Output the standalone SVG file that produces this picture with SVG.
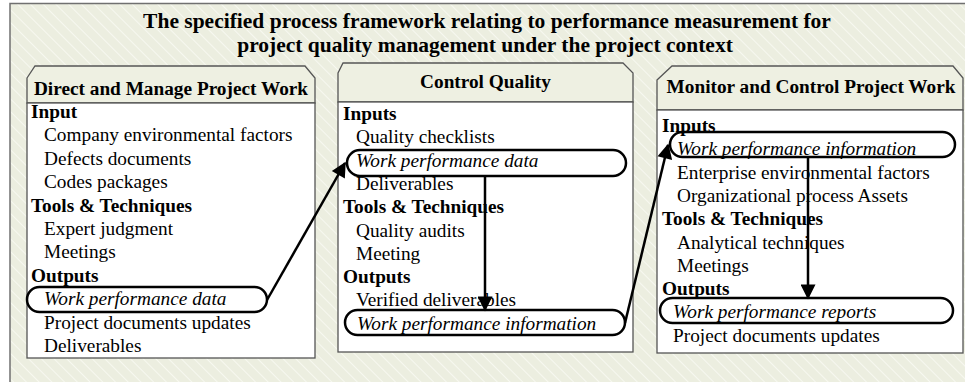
<svg xmlns="http://www.w3.org/2000/svg" width="965" height="382" viewBox="0 0 965 382" font-family="'Liberation Serif', Tinos, 'Times New Roman', 'DejaVu Serif', serif">
<defs>
<pattern id="hatch" width="9" height="9" patternUnits="userSpaceOnUse" patternTransform="rotate(-45)">
<rect width="9" height="9" fill="#ECEEE0"/>
<line x1="0" y1="0" x2="0" y2="9" stroke="#F7F8F0" stroke-width="2"/>
</pattern>
<marker id="arr" viewBox="0 0 10 10" refX="9" refY="5" markerWidth="7" markerHeight="6" markerUnits="strokeWidth" orient="auto">
<path d="M0,0 L10,5 L0,10 z" fill="#000"/>
</marker>
</defs>
<style>
.frame{fill:url(#hatch);stroke:#707070;stroke-width:1.5}
.hdr{fill:#EEF0E2;stroke:#555;stroke-width:1.3}
.body{fill:#fff;stroke:#555;stroke-width:1.3}
text{font-family:'Liberation Serif',Tinos,'Times New Roman','DejaVu Serif',serif;font-size:19.3px;fill:#000}
.title{font-weight:bold;font-size:21.5px;text-anchor:middle}
.ht{font-weight:bold;text-anchor:middle}
.sec{font-weight:bold}
.it{font-style:italic}
.hl{fill:none;stroke:#000;stroke-width:2.5}
.conn{fill:none;stroke:#000;stroke-width:2.5}
</style>
<rect class="frame" x="10" y="3.5" width="970" height="395"/>
<g id="title">
<text class="title" x="487" y="28">The specified process framework relating to performance measurement for</text>
<text class="title" x="485" y="52">project quality management under the project context</text>
</g>
<g id="direct-manage">
<path class="hdr" d="M27,78 L35,66 L305,66 L315,78 L315,103 L27,103 Z"/>
<rect class="body" x="27" y="103" width="288" height="255"/>
<text class="ht" x="171" y="95">Direct and Manage Project Work</text>
<text class="sec" x="31" y="118">Input</text>
<text x="44" y="141.4">Company environmental factors</text>
<text x="44" y="164.8">Defects documents</text>
<text x="44" y="188.2">Codes packages</text>
<text class="sec" x="31" y="211.6">Tools &amp; Techniques</text>
<text x="44" y="235">Expert judgment</text>
<text x="44" y="258.4">Meetings</text>
<text class="sec" x="31" y="281.8">Outputs</text>
<text class="it" x="44" y="305.2">Work performance data</text>
<text x="44" y="328.6">Project documents updates</text>
<text x="44" y="352">Deliverables</text>
<rect class="hl" x="27" y="287" width="240" height="25" rx="12.5"/>
</g>
<g id="control-quality">
<path class="hdr" d="M338,73 L343,63 L623,63 L633,73 L633,102 L338,102 Z"/>
<rect class="body" x="338" y="102" width="295" height="250"/>
<text class="ht" x="485.5" y="88">Control Quality</text>
<text class="sec" x="343" y="120">Inputs</text>
<text x="356" y="143.3">Quality checklists</text>
<text class="it" x="356" y="166.6">Work performance data</text>
<text x="356" y="189.9">Deliverables</text>
<text class="sec" x="343" y="213.2">Tools &amp; Techniques</text>
<text x="356" y="236.5">Quality audits</text>
<text x="356" y="259.8">Meeting</text>
<text class="sec" x="343" y="283.1">Outputs</text>
<text x="356" y="306.4">Verified deliverables</text>
<text class="it" x="357" y="329.7">Work performance information</text>
<rect class="hl" x="347" y="150" width="279" height="26" rx="13"/>
<rect class="hl" x="345" y="310" width="280" height="25" rx="12.5"/>
</g>
<g id="monitor-control">
<path class="hdr" d="M657,80 L672,66 L953,66 L963,78 L963,110 L657,110 Z"/>
<rect class="body" x="657" y="110" width="306" height="243"/>
<text class="ht" x="811" y="93">Monitor and Control Project Work</text>
<text class="sec" x="662" y="132">Inputs</text>
<text class="it" x="677" y="155.3">Work performance information</text>
<text x="677" y="178.6">Enterprise environmental factors</text>
<text x="677" y="201.9">Organizational process Assets</text>
<text class="sec" x="662" y="225.2">Tools &amp; Techniques</text>
<text x="677" y="248.5">Analytical techniques</text>
<text x="677" y="271.8">Meetings</text>
<text class="sec" x="662" y="295.1">Outputs</text>
<text class="it" x="673" y="318.4">Work performance reports</text>
<text x="673" y="341.7">Project documents updates</text>
<rect class="hl" x="670" y="132" width="285" height="25" rx="12.5"/>
<rect class="hl" x="660" y="298" width="293" height="25" rx="12.5"/>
</g>
<g id="connectors">
<line class="conn" x1="267" y1="300" x2="345" y2="163" marker-end="url(#arr)"/>
<line class="conn" x1="485" y1="176" x2="485" y2="310" marker-end="url(#arr)"/>
<line class="conn" x1="625" y1="323" x2="668" y2="145" marker-end="url(#arr)"/>
<line class="conn" x1="808" y1="157" x2="808" y2="298" marker-end="url(#arr)"/>
</g>
</svg>
